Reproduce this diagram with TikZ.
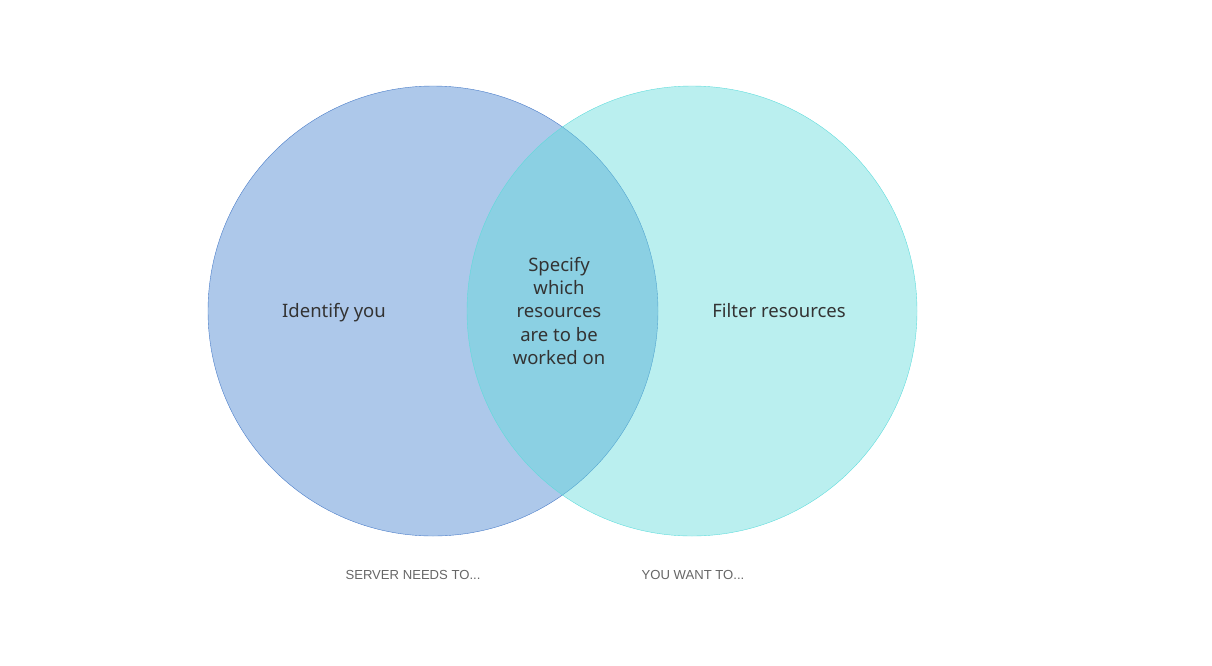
\documentclass[tikz,border=0pt]{standalone}
\usepackage{fontspec}
\setmainfont{Noto Sans}
\newfontfamily\labelfont{Liberation Sans}
\usetikzlibrary{positioning}
\definecolor{serverblue}{RGB}{173, 200, 234}
\definecolor{serverline}{RGB}{74, 125, 200}
\definecolor{wantcyan}{RGB}{95, 219, 219}
\definecolor{inktext}{RGB}{51, 51, 51}
\definecolor{captiongray}{RGB}{102, 102, 102}

\begin{document}
\begin{tikzpicture}[x=1pt, y=-1pt,
	setcircle/.style={circle, minimum size=450pt, inner sep=0pt},
	areatext/.style={text=inktext, font=\fontsize{18.5}{23.3}\selectfont, align=center},
	caption/.style={text=captiongray, font=\labelfont\fontsize{13.1}{15}\selectfont}]
	\useasboundingbox (0,0) rectangle (1212,665);

	\node[setcircle, draw=serverline, fill=serverblue] (server) at (433,311) {};
	\node[setcircle, draw=wantcyan, fill=wantcyan, fill opacity=0.43] (want) at (692,311) {};

	\node[areatext] (identify) at (334,313) {Identify you};
	\node[areatext] (specify) at (559,311) {Specify\\which\\resources\\are to be\\worked on};
	\node[areatext] (filter) at (779,311) {Filter resources};

	\node[caption] (servercap) at (413,575) {SERVER NEEDS TO...};
	\node[caption] (wantcap) at (693,575) {YOU WANT TO...};
\end{tikzpicture}
\end{document}
